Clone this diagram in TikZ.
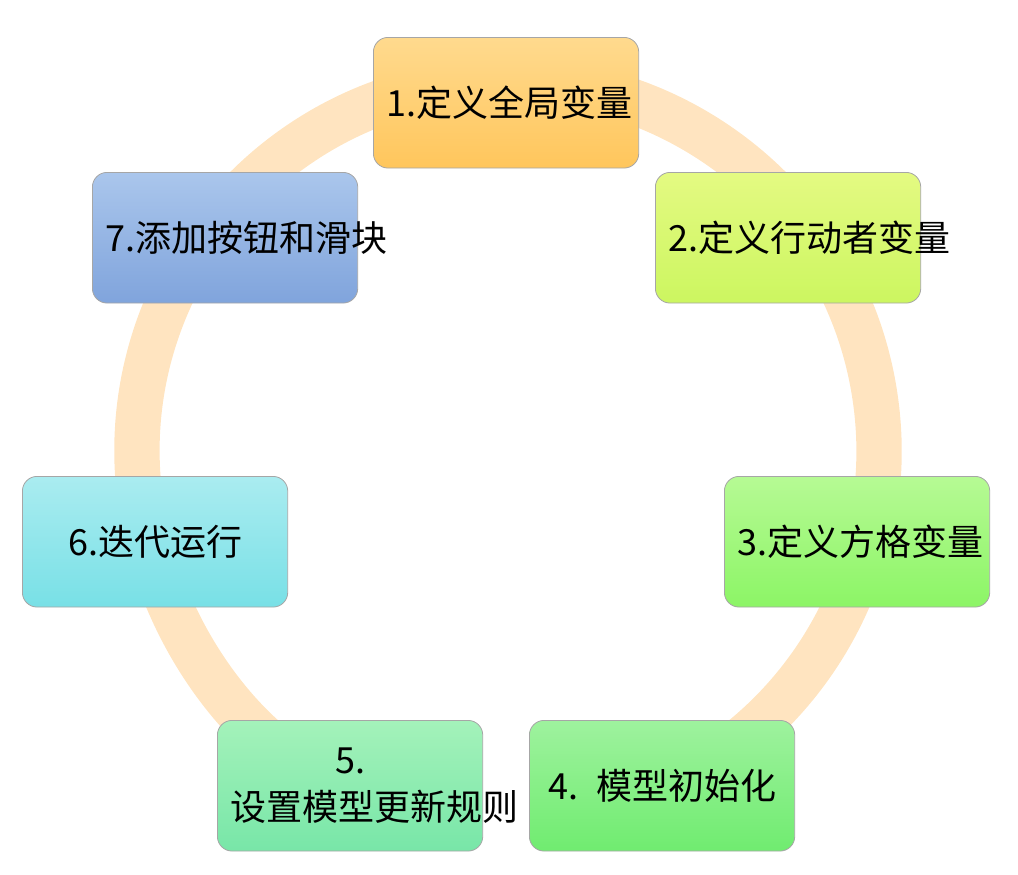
\documentclass[tikz,border=0pt]{standalone}
\usepackage{fontspec}
\setmainfont{Noto Sans CJK SC}
\usetikzlibrary{arrows.meta}
\begin{document}
\begin{tikzpicture}[x=0.75pt,y=-0.75pt,
  stepbox/.style={draw=black!35,line width=0.6pt,rounded corners=11pt,minimum width=199pt,minimum height=98pt,
    text width=180pt,align=center,font=\fontsize{27}{35}\selectfont,anchor=north west,inner sep=0pt}]
\useasboundingbox (0,0) rectangle (1018,875);
\coordinate (c) at (508,451);
\draw[line width=34pt,color={rgb,255:red,255;green,228;blue,192},-{Triangle[width=66pt,length=40pt]}]
  ([shift={(80:371)}]c) arc[start angle=80,end angle=-249,radius=371];
\node[stepbox,top color={rgb,255:red,255;green,218;blue,142},bottom color={rgb,255:red,255;green,198;blue,92}] (n1) at (373,37) {1.定义全局变量};
\node[stepbox,top color={rgb,255:red,228;green,250;blue,130},bottom color={rgb,255:red,204;green,246;blue,96}] (n2) at (655,172) {2.定义行动者变量};
\node[stepbox,top color={rgb,255:red,182;green,250;blue,148},bottom color={rgb,255:red,140;green,245;blue,102}] (n3) at (724,476) {3.定义方格变量};
\node[stepbox,top color={rgb,255:red,158;green,242;blue,158},bottom color={rgb,255:red,112;green,236;blue,112}] (n4) at (529,720) {4. 模型初始化};
\node[stepbox,top color={rgb,255:red,164;green,242;blue,186},bottom color={rgb,255:red,120;green,230;blue,168}] (n5) at (217,720) {5. 设置模型更新规则};
\node[stepbox,top color={rgb,255:red,170;green,236;blue,240},bottom color={rgb,255:red,120;green,224;blue,230}] (n6) at (22,476) {6.迭代运行};
\node[stepbox,top color={rgb,255:red,170;green,198;blue,236},bottom color={rgb,255:red,128;green,164;blue,220}] (n7) at (92,172) {7.添加按钮和滑块};
\end{tikzpicture}
\end{document}
